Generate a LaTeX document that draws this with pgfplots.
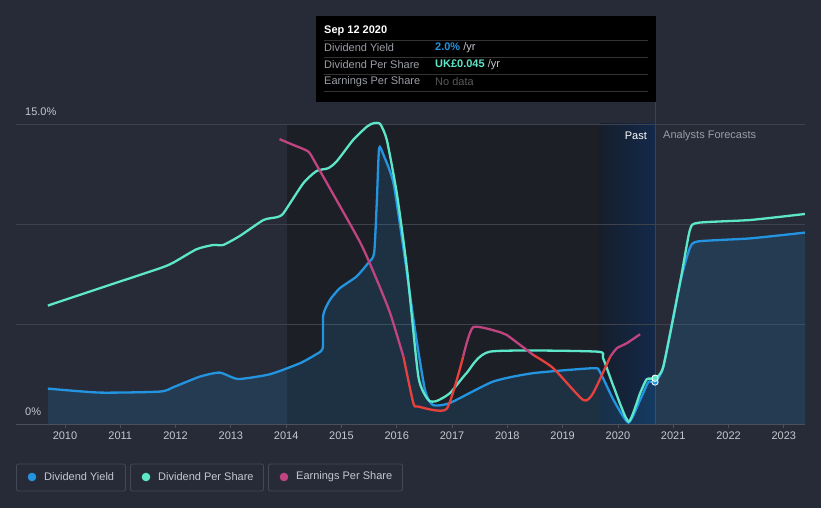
\documentclass[border=0pt]{standalone}
\usepackage{pgfplots}
\pgfplotsset{compat=1.18}
\usepackage{fontspec}
\setmainfont{Liberation Sans}
\definecolor{bg}{HTML}{262B37}
\definecolor{darkreg}{HTML}{1C1F26}
\definecolor{pastL}{HTML}{161E2C}
\definecolor{pastR}{HTML}{13294A}
\definecolor{pastline}{HTML}{1E4A7A}
\definecolor{gridc}{HTML}{3D424D}
\definecolor{axisc}{HTML}{4B505B}
\definecolor{tickc}{HTML}{C4C8CF}
\definecolor{dyc}{HTML}{2394DF}
\definecolor{dpsc}{HTML}{5EE6C9}
\definecolor{epsc}{HTML}{C04480}
\definecolor{epsred}{HTML}{E8403D}
\definecolor{ttgray}{HTML}{9A9EA6}
\definecolor{ttline}{HTML}{333333}
\definecolor{legbox}{HTML}{434956}
\begin{document}
\begin{tikzpicture}[x=1pt,y=1pt]
\fill[bg] (0,0) rectangle (821,508);
\begin{axis}[
    at={(16pt,84pt)}, anchor=south west,
    scale only axis, width=789pt, height=300pt,
    xmin=2009.114, xmax=2023.382, ymin=0, ymax=15,
    axis x line=bottom, axis y line=none,
    x axis line style={-, draw=axisc, line width=0.8pt},
    xtick={2010,...,2023}, ytick=\empty,
    xtick align=outside, major tick length=4pt,
    tick style={draw=axisc, line width=0.8pt},
    xticklabel style={text=tickc, font=\fontsize{11}{13}\selectfont},
    /pgf/number format/1000 sep={},
    /pgf/number format/assume math mode=true,
    clip=false,
    every axis plot/.append style={line width=2.3pt, smooth, tension=0.35},
]
% background regions
\fill[darkreg] (axis cs:2014.01,0) rectangle (axis cs:2019.67,15);
\shade[left color=pastL, right color=pastR] (axis cs:2019.67,0) rectangle (axis cs:2020.67,15);
\draw[pastline, line width=0.8pt] (axis cs:2020.67,0) -- (axis cs:2020.67,16.2);
% grid
\draw[gridc, line width=0.8pt] (axis cs:2009.114,5) -- (axis cs:2023.382,5);
\draw[gridc, line width=0.8pt] (axis cs:2009.114,10) -- (axis cs:2023.382,10);
\draw[gridc, line width=0.8pt] (axis cs:2009.114,15) -- (axis cs:2023.382,15);

% Dividend yield area
\addplot[draw=none, fill=dyc, fill opacity=0.16] coordinates {
(2009.69,1.77) (2010.63,1.57) (2011.72,1.62) (2011.96,1.84) (2012.44,2.37)
(2012.80,2.57) (2013.13,2.25) (2013.71,2.49) (2014.25,3.04) (2014.52,3.45)
(2014.66,3.79) (2014.67,5.45) (2014.79,6.2) (2014.97,6.79) (2015.27,7.37)
(2015.48,8.04) (2015.59,8.54) (2015.64,11.2) (2015.68,13.79) (2015.76,13.45)
(2015.94,12.04) (2016.15,8.2) (2016.33,4.7) (2016.51,1.7) (2016.65,0.95)
(2016.96,1.05) (2017.74,2.12) (2018.46,2.54) (2019.55,2.79) (2019.67,2.62)
(2019.92,1.2) (2020.19,0.07) (2020.40,1.2) (2020.55,2.1) (2020.67,2.1)
(2020.82,2.87) (2021.12,7.03) (2021.30,8.8) (2021.45,9.13) (2022.39,9.28) (2023.38,9.57)
} \closedcycle;

% Dividend yield
\addplot[dyc] coordinates {
(2009.69,1.77) (2010.63,1.57) (2011.72,1.62) (2011.96,1.84) (2012.44,2.37)
(2012.80,2.57) (2013.13,2.25) (2013.71,2.49) (2014.25,3.04) (2014.52,3.45)
(2014.66,3.79) (2014.67,5.45) (2014.79,6.2) (2014.97,6.79) (2015.27,7.37)
(2015.48,8.04) (2015.59,8.54) (2015.64,11.2) (2015.68,13.79) (2015.76,13.45)
(2015.94,12.04) (2016.15,8.2) (2016.33,4.7) (2016.51,1.7) (2016.65,0.95)
(2016.96,1.05) (2017.74,2.12) (2018.46,2.54) (2019.55,2.79) (2019.67,2.62)
(2019.92,1.2) (2020.19,0.07) (2020.40,1.2) (2020.55,2.1) (2020.67,2.1)
(2020.82,2.87) (2021.12,7.03) (2021.30,8.8) (2021.45,9.13) (2022.39,9.28) (2023.38,9.57)
};

% Dividend per share
\addplot[dpsc] coordinates {
(2009.69,5.92) (2010.63,6.79) (2011.72,7.79) (2011.96,8.07) (2012.38,8.74)
(2012.68,8.95) (2012.86,8.95) (2013.16,9.4) (2013.59,10.2) (2013.83,10.34)
(2013.95,10.54) (2014.31,12.04) (2014.55,12.65) (2014.76,12.79) (2014.91,13.12)
(2015.21,14.2) (2015.46,14.87) (2015.58,15.04) (2015.70,15.0) (2015.82,14.2)
(2016.00,11.54) (2016.18,7.87) (2016.39,2.37) (2016.57,1.2) (2016.72,1.15)
(2016.96,1.54) (2017.26,2.54) (2017.69,3.62) (2019.61,3.62) (2019.73,3.29)
(2019.92,1.87) (2020.19,0.12) (2020.40,1.54) (2020.52,2.24) (2020.67,2.29)
(2020.82,2.87) (2021.12,7.03) (2021.30,9.7) (2021.45,10.06) (2022.39,10.2)
(2023.38,10.5)
};

% Earnings per share
\addplot[epsc] coordinates {
(2013.88,14.24) (2014.13,13.95) (2014.40,13.62) (2014.55,12.95) (2015.33,9.12)
(2015.64,7.2) (2015.88,5.54) (2016.12,3.37)
};
\addplot[epsred] coordinates {
(2016.12,3.37) (2016.30,1.04) (2016.39,0.87) (2016.90,0.75) (2017.20,3.37)
};
\addplot[epsc] coordinates {
(2017.20,3.37) (2017.38,4.84) (2017.87,4.59) (2017.99,4.45) (2018.47,3.45)
};
\addplot[epsred] coordinates {
(2018.47,3.45) (2018.83,2.79) (2019.37,1.2) (2019.55,1.54) (2019.86,3.37)
};
\addplot[epsc] coordinates {
(2019.86,3.37) (2019.98,3.79) (2020.16,4.04) (2020.40,4.49)
};

% current markers
\addplot[only marks, mark=*, mark size=3.2pt, line width=0.8pt, draw=white, fill=dyc] coordinates {(2020.67,2.1)};
\addplot[only marks, mark=*, mark size=3.2pt, line width=0.8pt, draw=white, fill=dpsc] coordinates {(2020.67,2.29)};
\end{axis}

% y labels
\node[anchor=west, inner sep=0, text=tickc, font=\fontsize{11}{13}\selectfont] at (25,396) {15.0\%};
\node[anchor=west, inner sep=0, text=tickc, font=\fontsize{11}{13}\selectfont] at (25,96) {0\%};
\node[anchor=east, inner sep=0, text=white, font=\fontsize{11}{13}\selectfont] at (647,372) {Past};
\node[anchor=west, inner sep=0, text=ttgray, font=\fontsize{11}{13}\selectfont] at (663,372) {Analysts Forecasts};

% tooltip
\fill[black] (316,406) rectangle (656,492);
\foreach \yy in {468,451,434,417} \draw[ttline, line width=0.8pt] (324,\yy) -- (648,\yy);
\node[anchor=west, inner sep=0, text=white, font=\bfseries\fontsize{11}{13}\selectfont] at (324,477) {Sep 12 2020};
\node[anchor=west, inner sep=0, text=ttgray, font=\fontsize{11}{13}\selectfont] at (324,460) {Dividend Yield};
\node[anchor=west, inner sep=0, text=ttgray, font=\fontsize{11}{13}\selectfont] at (324,443) {Dividend Per Share};
\node[anchor=west, inner sep=0, text=ttgray, font=\fontsize{11}{13}\selectfont] at (324,426) {Earnings Per Share};
\node[anchor=west, inner sep=0, font=\fontsize{11}{13}\selectfont] at (435,460) {\textcolor{dyc}{\bfseries 2.0\%} \textcolor{tickc}{/yr}};
\node[anchor=west, inner sep=0, font=\fontsize{11}{13}\selectfont] at (435,443) {\textcolor{dpsc}{\bfseries UK£0.045} \textcolor{tickc}{/yr}};
\node[anchor=west, inner sep=0, text=gray!70!black, font=\fontsize{11}{13}\selectfont] at (435,426) {No data};

% legend
\draw[legbox, line width=0.8pt, rounded corners=2pt] (16.5,17) rectangle (125.5,44);
\draw[legbox, line width=0.8pt, rounded corners=2pt] (130.5,17) rectangle (263.5,44);
\draw[legbox, line width=0.8pt, rounded corners=2pt] (268.5,17) rectangle (402.5,44);
\fill[dyc] (32,31) circle (4.3);
\fill[dpsc] (146,31) circle (4.3);
\fill[epsc] (284,31) circle (4.3);
\node[anchor=west, inner sep=0, text=tickc, font=\fontsize{11}{13}\selectfont] at (44,31) {Dividend Yield};
\node[anchor=west, inner sep=0, text=tickc, font=\fontsize{11}{13}\selectfont] at (158,31) {Dividend Per Share};
\node[anchor=west, inner sep=0, text=tickc, font=\fontsize{11}{13}\selectfont] at (296,31) {Earnings Per Share};
\end{tikzpicture}
\end{document}
